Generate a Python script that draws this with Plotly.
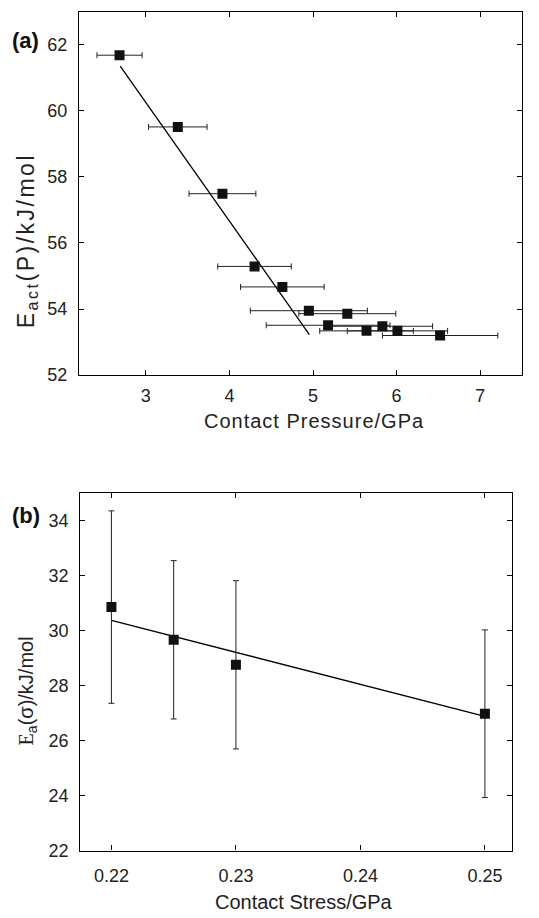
import plotly.graph_objects as go

# Panel (a) data
pressure = [2.685, 3.382, 3.916, 4.30, 4.633, 4.95, 5.41, 5.18, 5.83, 5.64, 6.01, 6.52]
pressure_err = [0.27, 0.35, 0.40, 0.44, 0.50, 0.70, 0.58, 0.74, 0.60, 0.56, 0.60, 0.69]
e_act = [61.68, 59.51, 57.49, 55.29, 54.67, 53.95, 53.86, 53.51, 53.48, 53.34, 53.34, 53.20]
fit_a_x = [2.693, 4.956]
fit_a_y = [61.35, 53.23]

# Panel (b) data
stress = [0.22, 0.225, 0.23, 0.25]
e_a = [30.86, 29.67, 28.76, 26.98]
e_a_err = [3.5, 2.88, 3.06, 3.05]
fit_b_x = [0.22, 0.25]
fit_b_y = [30.38, 26.88]

x_title_a = "Contact Pressure/GPa"
y_title_a = "E<sub>act</sub>(P)/kJ/mol"
x_title_b = "Contact Stress/GPa"
y_title_b = "<span style=\"font-family:'Liberation Serif'\">E</span><sub>a</sub>(σ)/kJ/mol"

W, H = 539, 918
FONT = "Liberation Sans, Arial, sans-serif"
TXT = "#222222"


def spaced(text, px):
    return f'<span style="letter-spacing:{px}px">{text}</span>'


fig = go.Figure()

fig.add_trace(go.Scatter(x=fit_a_x, y=fit_a_y, mode="lines",
                         line=dict(color="black", width=1.3),
                         xaxis="x", yaxis="y", showlegend=False))
fig.add_trace(go.Scatter(x=pressure, y=e_act, mode="markers",
                         marker=dict(symbol="square", size=10, color="#111111"),
                         error_x=dict(type="data", array=pressure_err, color="#222222",
                                      thickness=1, width=3),
                         xaxis="x", yaxis="y", showlegend=False))

fig.add_trace(go.Scatter(x=fit_b_x, y=fit_b_y, mode="lines",
                         line=dict(color="black", width=1.3),
                         xaxis="x2", yaxis="y2", showlegend=False))
fig.add_trace(go.Scatter(x=stress, y=e_a, mode="markers",
                         marker=dict(symbol="square", size=10, color="#111111"),
                         error_y=dict(type="data", array=e_a_err, color="#222222",
                                      thickness=1, width=3),
                         xaxis="x2", yaxis="y2", showlegend=False))

axis_common = dict(showgrid=False, zeroline=False, showline=True, linecolor="black",
                   linewidth=1.3, mirror="ticks", ticks="inside", ticklen=5,
                   tickwidth=1.2, tickcolor="black",
                   tickfont=dict(family=FONT, size=18, color=TXT))

fig.update_layout(
    width=W, height=H,
    margin=dict(l=0, r=0, t=0, b=0),
    paper_bgcolor="white", plot_bgcolor="white",
    font=dict(family=FONT, color=TXT),
    xaxis=dict(domain=[79/W, 522/W], range=[2.2, 7.5], dtick=1, tick0=3,
               anchor="y", ticklabelstandoff=4, **axis_common),
    yaxis=dict(domain=[1-379.3/H, 1-11.7/H], range=[52, 63], dtick=2, tick0=52,
               anchor="x", ticklabelstandoff=7, **axis_common),
    xaxis2=dict(domain=[80.3/W, 512.3/W], range=[0.2175, 0.2522],
                tickvals=[0.22, 0.23, 0.24, 0.25], tickformat=".2f",
                anchor="y2", ticklabelstandoff=9, **axis_common),
    yaxis2=dict(domain=[1-860/H, 1-498.7/H], range=[22, 35], dtick=2, tick0=22,
                anchor="x2", ticklabelstandoff=7, **axis_common),
    annotations=[
        dict(text="<b>(a)</b>", x=10/W, y=1-41/H, xref="paper", yref="paper",
             xanchor="left", yanchor="middle", showarrow=False,
             font=dict(family=FONT, size=22, color="#111111")),
        dict(text="<b>(b)</b>", x=10/W, y=1-521/H, xref="paper", yref="paper",
             xanchor="left", yanchor="middle", showarrow=False,
             font=dict(family=FONT, size=22, color="#111111")),
        dict(text=spaced(x_title_a, 1), x=314/W, y=1-426/H, xref="paper", yref="paper",
             xanchor="center", yanchor="middle", showarrow=False,
             font=dict(family=FONT, size=20, color=TXT)),
        dict(text=x_title_b, x=304/W, y=1-912/H, xref="paper", yref="paper",
             xanchor="center", yanchor="middle", showarrow=False,
             font=dict(family=FONT, size=20, color=TXT)),
        dict(text=spaced(y_title_a, 2.5), x=27/W, y=1-244/H, xref="paper", yref="paper",
             xanchor="center", yanchor="middle", showarrow=False, textangle=-90,
             font=dict(family=FONT, size=23, color=TXT)),
        dict(text=y_title_b, x=27/W, y=1-699/H, xref="paper", yref="paper",
             xanchor="center", yanchor="middle", showarrow=False, textangle=-90,
             font=dict(family=FONT, size=20, color=TXT)),
    ],
)

fig.write_html("out.html")
